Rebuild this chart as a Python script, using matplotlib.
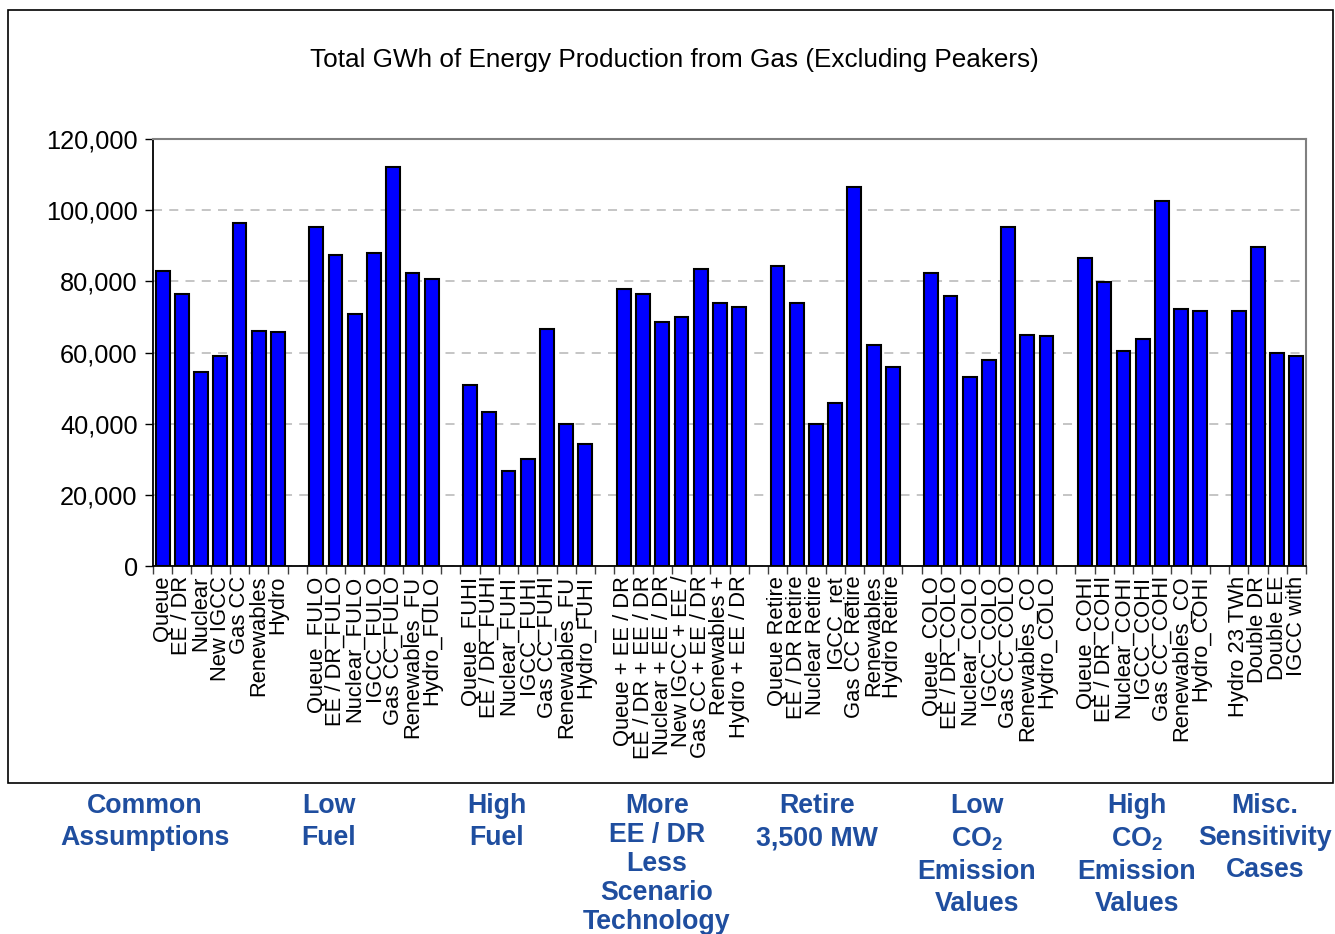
import numpy as np
import matplotlib
matplotlib.use("Agg")
import matplotlib.pyplot as plt
from matplotlib.patches import Rectangle
from matplotlib.ticker import FuncFormatter

plt.rcParams['font.family'] = ['Liberation Sans', 'DejaVu Sans']
plt.rcParams['mathtext.fontset'] = 'custom'
plt.rcParams['mathtext.rm'] = 'Liberation Sans:bold'
plt.rcParams['mathtext.it'] = 'Liberation Sans:bold'
plt.rcParams['mathtext.bf'] = 'Liberation Sans:bold'

# ---- data (GWh) ----
common_labels = ["Queue", "EE / DR", "Nuclear", "New IGCC", "Gas CC", "Renewables", "Hydro"]
common_vals = [83000, 76300, 54400, 58900, 96500, 66100, 65700]

lowfuel_labels = ["Queue_FULO", "EE / DR_FULO", "Nuclear_FULO", "IGCC_FULO",
                  "Gas CC_FULO", "Renewables_FU", "Hydro_FULO"]
lowfuel_vals = [95400, 87500, 70700, 88100, 112200, 82400, 80700]

highfuel_labels = ["Queue_FUHI", "EE / DR_FUHI", "Nuclear_FUHI", "IGCC_FUHI",
                   "Gas CC_FUHI", "Renewables_FU", "Hydro_FUHI"]
highfuel_vals = [51000, 43200, 26800, 30200, 66700, 39800, 34200]

moreee_labels = ["Queue + EE / DR", "EE / DR + EE / DR", "Nuclear + EE / DR",
                 "New IGCC + EE /", "Gas CC + EE / DR", "Renewables +", "Hydro + EE / DR"]
moreee_vals = [77900, 76300, 68500, 70100, 83600, 74000, 72900]

retire_labels = ["Queue Retire", "EE / DR Retire", "Nuclear Retire", "IGCC_ret",
                 "Gas CC Retire", "Renewables", "Hydro Retire"]
retire_vals = [84200, 74000, 39800, 45900, 106600, 62200, 56000]

lowco2_labels = ["Queue_COLO", "EE / DR_COLO", "Nuclear_COLO", "IGCC_COLO",
                 "Gas CC_COLO", "Renewables_CO", "Hydro_COLO"]
lowco2_vals = [82400, 75800, 53200, 57800, 95400, 65000, 64500]

highco2_labels = ["Queue_COHI", "EE / DR_COHI", "Nuclear_COHI", "IGCC_COHI",
                  "Gas CC_COHI", "Renewables_CO", "Hydro_COHI"]
highco2_vals = [86500, 79700, 60500, 63900, 102700, 72300, 71800]

misc_labels = ["Hydro 23 TWh", "Double DR", "Double EE", "IGCC with"]
misc_vals = [71800, 89700, 60000, 58900]

groups = [(common_labels, common_vals), (lowfuel_labels, lowfuel_vals),
          (highfuel_labels, highfuel_vals), (moreee_labels, moreee_vals),
          (retire_labels, retire_vals), (lowco2_labels, lowco2_vals),
          (highco2_labels, highco2_vals), (misc_labels, misc_vals)]

group_titles = ["Common\nAssumptions", "Low\nFuel", "High\nFuel",
                "More\nEE / DR\nLess\nScenario\nTechnology", "Retire\n3,500 MW",
                "Low\nCO$_2$\nEmission\nValues", "High\nCO$_2$\nEmission\nValues",
                "Misc.\nSensitivity\nCases"]
title_x_px = [145, 329, 497, 657, 817, 977, 1137, 1265]

# ---- layout of slots (one empty slot between groups) ----
pos, vals, labels = [], [], []
slot = 0
for g_labels, g_vals in groups:
    for lab, v in zip(g_labels, g_vals):
        pos.append(slot)
        vals.append(v)
        labels.append(lab)
        slot += 1
    slot += 1
n_slots = slot - 1

W, H = 1335, 934
fig = plt.figure(figsize=(W / 100, H / 100), dpi=100)
ax = fig.add_axes([153 / W, 1 - 566 / H, (1306 - 153) / W, (566 - 139) / H])

ax.bar(pos, vals, width=0.72, color='#0000FF', edgecolor='black', linewidth=1.5, zorder=3)

ax.set_xlim(-0.5, n_slots - 0.5)
ax.set_xticks(pos)
ax.set_xticklabels(labels, rotation=90, fontsize=15.8)
ax.tick_params(axis='x', which='major', length=0, pad=7)
ax.set_xticks(np.arange(-0.5, n_slots, 1.0), minor=True)
ax.tick_params(axis='x', which='minor', length=6, width=1, color='#404040')

ax.set_ylim(0, 120000)
ax.set_yticks(np.arange(0, 120001, 20000))
ax.yaxis.set_major_formatter(FuncFormatter(lambda v, p: f"{int(v):,}"))
ax.tick_params(axis='y', labelsize=18.3, length=6, width=1, pad=5)

ax.yaxis.grid(True, linestyle=(0, (5, 4)), color='#C0C0C0', linewidth=1.3)
ax.set_axisbelow(True)

for side in ['left', 'bottom']:
    ax.spines[side].set_color('black')
    ax.spines[side].set_linewidth(1.3)
for side in ['top', 'right']:
    ax.spines[side].set_color('#808080')
    ax.spines[side].set_linewidth(1.5)

fig.text(674 / W, 1 - 60 / H, "Total GWh of Energy Production from Gas (Excluding Peakers)",
         ha='center', va='center', fontsize=18.8)

# outer chart frame
fig.patches.append(Rectangle((8 / W, 1 - 783 / H), (1333 - 8) / W, (783 - 10) / H,
                             transform=fig.transFigure, fill=False,
                             edgecolor='black', linewidth=1.2))

for txt, xp in zip(group_titles, title_x_px):
    ls = 1.15 if txt.startswith("More") else 1.31
    fig.text(xp / W, 1 - 793 / H, txt, ha='center', va='top', fontsize=19.3,
             fontweight='bold', color='#1F4E9F', linespacing=ls)

fig.savefig("out.png", dpi=100)
